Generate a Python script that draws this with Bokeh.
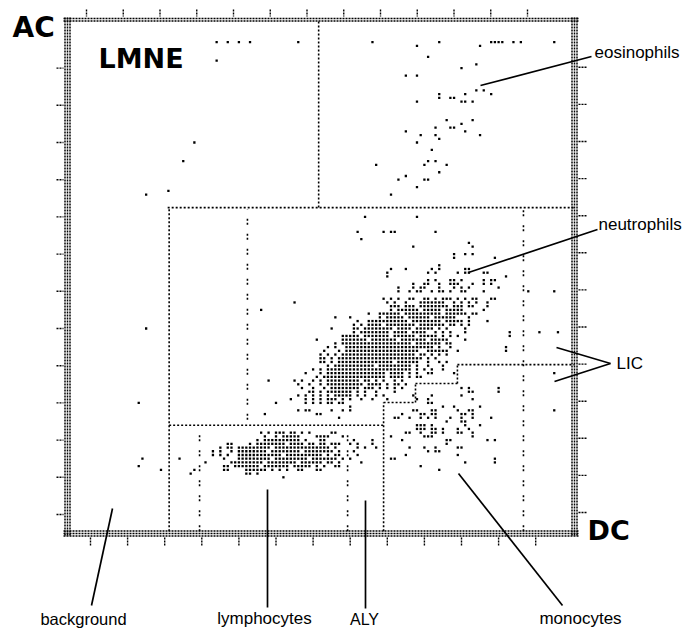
from bokeh.plotting import figure
from bokeh.models import Range1d, Label
from bokeh.embed import file_html
from bokeh.resources import INLINE

# ---------------- data: events as (DC channel, AC channel) ----------------
lmne_dc = [44, 47, 50, 53, 66, 44, 38, 35, 31, 25]
lmne_ac = [137, 137, 137, 137, 137, 132, 110, 105, 97, 96]

eos_dc = [86, 98, 104, 115, 118, 119, 120, 121, 124, 126, 135,
          101, 114, 110, 95, 98, 114, 116, 118, 104, 104, 107, 108, 111, 110, 111, 113, 98,
          106, 110, 113, 103, 107, 108, 111, 95, 99, 103, 104, 115, 98, 102, 101, 100, 103, 106, 87,
          104, 95, 93, 100, 101, 98, 91]
eos_ac = [137, 136, 137, 136, 137, 137, 137, 137, 137, 137, 137,
          133, 131, 130, 128, 128, 124, 124, 123, 123, 122, 122, 122, 123, 121, 121, 121, 121,
          116, 115, 116, 114, 114, 114, 113, 113, 112, 112, 111, 112, 110, 108, 105, 104, 105, 104, 104,
          102, 101, 100, 100, 100, 98, 96]

bg_dc = [25, 23, 24, 23, 29]
bg_ac = [60, 40, 25, 23, 22]

misc_dc = [56, 65, 58, 60, 57, 135, 135]
misc_ac = [65, 67, 46, 40, 37, 48, 38]

# neutrophils / monocytes: AC channel -> DC channels (runs "a-b")
nm_rows = [
    (90, "84 98"), (86, "82 89 91 92 103"), (84, "83"), (83, "112"), (82, "97 113"),
    (80, "108 111 113"), (79, "108 119"), (77, "104"), (76, "91 95 102 104 111 112"),
    (75, "90 101 103 109 111 112 116 117"), (74, "90 122"),
    (73, "101 103 107 108 110 116 118 119"), (72, "97 100 101 104 107 108 109 113 116 118"),
    (71, "93 97 99 100 104 108 110 112 120"),
    (70, "93 96 98 99 102 104 105 107 110 111 116 128 135"),
    (68, "89 91 93 96 97 100 101 103 105 106 107 109 111 113 114 118 119"),
    (67, "90 92 95 99-105 108 110 112 114 117"),
    (66, "91-93 95-97 99-106 108-110 112 113 117"),
    (65, "91 93-98 100-104 106-110 116"),
    (64, "85 88-93 95-104 106-111 113 114"),
    (63, "76 80 88 90-94 96-101 103-108 112"),
    (62, "82 85-95 97-104 106-110 112 117"),
    (61, "81 83 85-88 90-97 99-105 107 108 110 112"),
    (60, "75 81 82 84-91 93-96 98-102 104 106 111"),
    (59, "81 83-90 92-95 97-100 103 105 107 111 123 131 136"),
    (58, "78-82 84-90 92-97 99-103 105 107 109 123"),
    (57, "71 78-84 86-92 94-100 102-106 111"),
    (56, "76 78-96 98-104 106 107"),
    (55, "74 76 79-99 100-102 104 107 122"),
    (54, "73 77 79-98 101-106 109 122"),
    (53, "72 74 76 78-97 99 100 102 104 106"),
    (52, "72 73 75 77-99 101 103"),
    (51, "72 73 75 77-91 93-98 101 104 106"),
    (50, "74 76-86 88-96 98 101 105"),
    (49, "70 72 74-96 98 100 102 105"),
    (48, "68 72 74-89 91-94 96 98 101 102 108"),
    (47, "71 73 74-89 91-94 96 98 99"),
    (46, "65 67 70 72 74-82 84 85 87 89 92 94"),
    (45, "66 69 72 74-83 85-88 90 92 93 95"),
    (44, "67 70 73 75-82 84-86 88 90 92 94 110 112 120"),
    (43, "69 70 72 74-80 82 84 87 92 112 113 120"),
    (42, "66 68 70 72 74 76-80 82 84 87 89 97 102 110"),
    (41, "64 68 70 72 74-76 78 80 83 86 90 98 101 113"),
    (40, "68 70 72 74 75 77 78 101 102"),
    (39, "80 105 108 115"),
    (38, "66 68 69 75 78 80 97 98 102 103 109 112 113"),
    (37, "71 72 94 99 100 102 103 110 111 113"),
    (36, "77 92 93 96 99 101 103 107 110 113 118"),
    (35, "106 110 111"),
    (34, "98 99 100 102 111 115"),
    (33, "98 99 100 102 103 105 109 112"),
    (32, "95 96 99 102 103 105 109 110 113"),
    (31, "91 100 101 102 113"),
    (30, "94 106 107 117 119"),
    (29, "106"), (28, "96 100 103 109 110"), (27, "101 103 104"), (26, "95 109"),
    (25, "91 92 119"), (24, "111 119"), (23, "99"), (22, "104"),
]

# lymphocytes / ALY: AC channel -> DC channels
ly_rows = [
    (32, "56 58 60 61 62 64 65 67 69 75 76"),
    (31, "57 60 62 63 64 65 66 71 72 73 74 78"),
    (30, "55 57-66 68 72 73 81 86"),
    (29, "47 48 53 55-62 64-67 69 70 72 73 75 76 77 80 82 86"),
    (28, "45 47 48 50-58 60-70 71-74 76 82 84 87"),
    (27, "43 45 48 50-57 59-66 68-75 77 81"),
    (26, "43 45 47 50-61 63-72 74 76 77 82"),
    (25, "34 46 50-58 60-68 70-76 78 80"),
    (24, "41 48-56 58-65 67-72 74 75 77 83"),
    (23, "46 47 49-55 57-63 65-69 71 73 76 77"),
    (22, "38 46 47 52-57 59 61 63 66 67 71 72"),
    (21, "37 52 53 55"),
    (20, "62"),
]


def expand(rows):
    xs, ys = [], []
    for ac, spec in rows:
        for tok in spec.split():
            if "-" in tok:
                a, b = (int(t) for t in tok.split("-"))
                cs = list(range(a, b + 1))
            else:
                cs = [int(tok)]
            xs.extend(cs)
            ys.extend([ac] * len(cs))
    return xs, ys


nm_dc, nm_ac = expand(nm_rows)
ly_dc, ly_ac = expand(ly_rows)

# ---------------- layout helpers (reference pixels -> channels) ----------------
W, H = 684, 628


def cx(px):
    return (px - 52.9) / 3.71


def ry(py):
    return (551.2 - py) / 3.72


p = figure(width=W, height=H, x_range=Range1d(cx(0), cx(W)), y_range=Range1d(ry(H), ry(0)),
           toolbar_location=None, output_backend="svg", min_border=0,
           x_axis_location=None, y_axis_location=None)
p.xgrid.visible = False
p.ygrid.visible = False
p.outline_line_color = None
p.background_fill_color = "white"
p.border_fill_color = "white"


def segs(pairs, width, dash, color="black"):
    for a, b in pairs:
        p.line([a[0], b[0]], [a[1], b[1]], line_color=color, line_width=width, line_dash=dash)


# frame (dotted, several passes)
frame = []
for py in (18, 20.5):
    frame.append(((cx(63), ry(py)), (cx(578), ry(py))))
for py in (530.5, 533, 535.5):
    frame.append(((cx(63), ry(py)), (cx(578), ry(py))))
for px in (64.5, 67, 69.5, 571.5, 574, 576.5):
    frame.append(((cx(px), ry(17)), (cx(px), ry(536))))
segs(frame, 1.5, "2 1")

# ticks
ticks = []
for k in range(13):
    bx = 90 + 37.1 * k
    ticks.append(((cx(bx), ry(537)), (cx(bx), ry(546))))
    tpx = 86 + 36.75 * k
    ticks.append(((cx(tpx), ry(9)), (cx(tpx), ry(16))))
    lyy = 514 - 37.2 * k
    ticks.append(((cx(56), ry(lyy)), (cx(63), ry(lyy))))
    ryy = 512 - 37.1 * k
    ticks.append(((cx(578), ry(ryy)), (cx(586), ry(ryy))))
segs(ticks, 1.4, "2 1")

# gates (dense dotted)
dense = [
    ((71.5, 92.5), (71.5, 142.5)),
    ((30.8, 92.5), (140.5, 92.5)),
    ((31.2, 5.5), (31.2, 92.5)),
    ((31.2, 34.0), (89.0, 34.0)),
    ((89.0, 5.5), (89.0, 40.1)),
    ((89.0, 40.1), (97.6, 40.1)),
    ((97.6, 40.1), (97.6, 45.2)),
    ((97.6, 45.2), (108.9, 45.2)),
    ((108.9, 45.2), (108.9, 50.3)),
    ((108.9, 50.3), (140.5, 50.3)),
]
segs(dense, 1.6, "2 2")
sparse = [
    ((52.3, 35.5), (52.3, 92.0)),
    ((39.4, 5.5), (39.4, 32.5)),
    ((79.3, 5.5), (79.3, 33.0)),
    ((126.7, 5.5), (126.7, 92.0)),
]
segs(sparse, 1.6, "2 2 2 9")

# events
for xs, ys in ((lmne_dc, lmne_ac), (eos_dc, eos_ac), (bg_dc, bg_ac), (misc_dc, misc_ac),
               (nm_dc, nm_ac), (ly_dc, ly_ac)):
    p.scatter(xs, ys, marker="square", size=2.3, fill_color="black", line_color=None)

# leader lines
leaders = [
    ((480, 85), (591, 56)),
    ((468, 272), (597, 229)),
    ((556, 347), (610, 363)),
    ((554, 381), (610, 363)),
    ((112, 508), (91, 605)),
    ((267, 489), (267, 607)),
    ((365, 500), (365, 608)),
    ((458, 473), (562, 605)),
]
segs([((cx(a[0]), ry(a[1])), (cx(b[0]), ry(b[1]))) for a, b in leaders], 1.7, "solid")


def lab(text, px, py, size, align="left", bold=False, font="Liberation Sans"):
    # py is the wanted baseline in reference pixels; Bokeh draws the text a bit lower
    p.add_layout(Label(x=cx(px), y=ry(py - 0.35 * size), text=text, text_font=font,
                       text_font_size=f"{size}px", text_align=align, text_baseline="alphabetic",
                       text_font_style="bold" if bold else "normal", text_color="black"))


lab("AC", 12, 37, 28, bold=True, font="DejaVu Sans")
lab("LMNE", 98, 67, 27, bold=True, font="DejaVu Sans")
lab("DC", 587, 539, 27, bold=True, font="DejaVu Sans")
lab("eosinophils", 594, 58, 17)
lab("neutrophils", 598, 230, 17)
lab("LIC", 616, 369, 17)
lab("background", 83, 624, 16.5, align="center")
lab("lymphocytes", 264, 624, 17, align="center")
lab("ALY", 364, 625, 16, align="center")
lab("monocytes", 580, 624, 17, align="center")

open("out.html", "w").write(file_html(p, INLINE))
